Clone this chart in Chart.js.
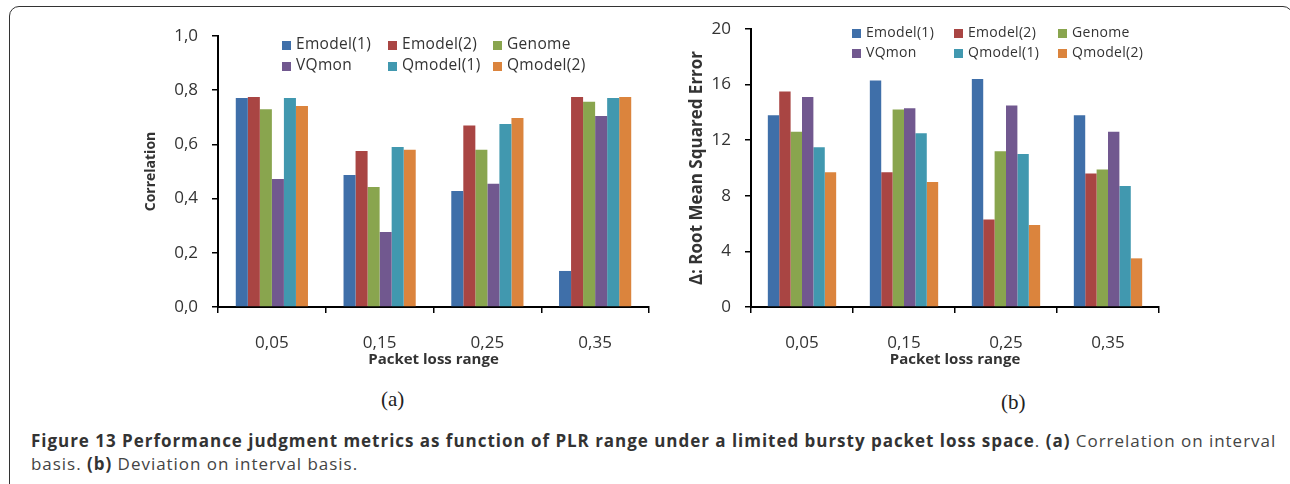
<!DOCTYPE html>
<html>
<head>
<meta charset="utf-8">
<script src="https://cdn.jsdelivr.net/npm/chart.js@4"></script>
<style>
  body { margin: 0; background: #fff; width: 1290px; height: 484px; overflow: hidden; position: relative; font-family: 'Open Sans', sans-serif; }
  .frame { position: absolute; left: 9px; top: 6px; width: 1284px; height: 490px; border: 1.5px solid #333; border-radius: 10px; box-sizing: border-box; }
  .box { position: absolute; top: 0; height: 380px; }
  .legend { position: absolute; color: #333; white-space: nowrap; }
  .legend span.sw { position: absolute; width: 9px; height: 9px; }
  .legend span.tx { position: absolute; line-height: 1; }
  .sub { position: absolute; font-family: 'Liberation Serif', serif; font-size: 21px; color: #222; }
  .caption { position: absolute; left: 31px; top: 429px; font-size: 17px; letter-spacing: 0.97px; line-height: 23px; color: #444; white-space: nowrap; }
  .caption b { color: #333; }
</style>
</head>
<body>
<div class="frame"></div>
<div class="box" style="left:0;width:665px"><canvas id="corrChart"></canvas></div>
<div class="box" style="left:665px;width:625px"><canvas id="rmseChart"></canvas></div>
<div class="legend" id="corrLegend"></div>
<div class="legend" id="rmseLegend"></div>
<div class="sub" style="left:381px;top:387px">(a)</div>
<div class="sub" style="left:1001px;top:390px">(b)</div>
<div class="caption"><b>Figure 13 Performance judgment metrics as function of PLR range under a limited bursty packet loss space</b>. <b>(a)</b> Correlation on interval<br>basis. <b>(b)</b> Deviation on interval basis.</div>
<script>
const categories = ['0,05', '0,15', '0,25', '0,35'];
const seriesNames = ['Emodel(1)', 'Emodel(2)', 'Genome', 'VQmon', 'Qmodel(1)', 'Qmodel(2)'];
const seriesColors = ['#3f6fa9', '#a94543', '#89a54e', '#71588f', '#4198af', '#db843d'];

// (a) correlation
const corrEmodel1 = [0.771, 0.487, 0.428, 0.133];
const corrEmodel2 = [0.775, 0.576, 0.670, 0.775];
const corrGenome  = [0.730, 0.443, 0.580, 0.757];
const corrVQmon   = [0.472, 0.277, 0.455, 0.705];
const corrQmodel1 = [0.771, 0.590, 0.675, 0.771];
const corrQmodel2 = [0.742, 0.580, 0.697, 0.775];

// (b) root mean squared error
const rmseEmodel1 = [13.8, 16.3, 16.4, 13.8];
const rmseEmodel2 = [15.5, 9.7, 6.3, 9.6];
const rmseGenome  = [12.6, 14.2, 11.2, 9.9];
const rmseVQmon   = [15.1, 14.3, 14.5, 12.6];
const rmseQmodel1 = [11.5, 12.5, 11.0, 8.7];
const rmseQmodel2 = [9.7, 9.0, 5.9, 3.5];

Chart.defaults.font.family = "'Open Sans', sans-serif";
Chart.defaults.color = '#333';
Chart.defaults.animation = false;

function buildDatasets(series) {
    return series.map((values, i) => ({
        label: seriesNames[i],
        data: values,
        backgroundColor: seriesColors[i],
        categoryPercentage: 0.67,
        barPercentage: 1.0,
    }));
}

function makeChart(id, series, cfg) {
    return new Chart(document.getElementById(id), {
        type: 'bar',
        data: { labels: categories, datasets: buildDatasets(series) },
        options: {
            responsive: true,
            maintainAspectRatio: false,
            layout: { padding: cfg.padding },
            plugins: { legend: { display: false }, tooltip: { enabled: false } },
            scales: {
                x: {
                    afterFit: (scale) => { scale.height = cfg.xHeight; },
                    border: { color: '#000', width: 2 },
                    grid: { drawOnChartArea: false, color: '#000', lineWidth: 1.5, tickLength: 6 },
                    ticks: { padding: 20, font: { size: 17 }, color: '#333' },
                    title: {
                        display: true, text: 'Packet loss range', color: '#333',
                        font: { size: 15, weight: 'bold' }, padding: { top: 0, bottom: 0 },
                    },
                },
                y: {
                    min: 0,
                    max: cfg.max,
                    afterFit: (scale) => { scale.width = cfg.yWidth; },
                    border: { color: '#000', width: 2 },
                    grid: { drawOnChartArea: false, color: '#000', lineWidth: 1.5, tickLength: 6 },
                    ticks: { stepSize: cfg.step, padding: 14, font: { size: 17 }, color: '#333', callback: cfg.fmt },
                    title: {
                        display: true, text: cfg.yTitle, color: '#333',
                        font: { size: cfg.yTitleSize, weight: 'bold' }, padding: 0,
                    },
                },
            },
        },
    });
}

makeChart('corrChart',
    [corrEmodel1, corrEmodel2, corrGenome, corrVQmon, corrQmodel1, corrQmodel2], {
        padding: { left: 143, right: 16, top: 36, bottom: 11 },
        xHeight: 62, yWidth: 75, max: 1, step: 0.2,
        fmt: (v) => v.toFixed(1).replace('.', ','),
        yTitle: 'Correlation', yTitleSize: 14,
    });

makeChart('rmseChart',
    [rmseEmodel1, rmseEmodel2, rmseGenome, rmseVQmon, rmseQmodel1, rmseQmodel2], {
        padding: { left: 22, right: 131, top: 29, bottom: 11 },
        xHeight: 62, yWidth: 64, max: 20, step: 4,
        fmt: (v) => String(v),
        yTitle: 'Δ: Root Mean Squared Error', yTitleSize: 17,
    });

// legends, 3 columns x 2 rows like the original
function buildLegend(id, cols, rows, size) {
    const el = document.getElementById(id);
    seriesNames.forEach((name, i) => {
        const x = cols[i % 3], y = rows[Math.floor(i / 3)];
        const sw = document.createElement('span');
        sw.className = 'sw';
        sw.style.cssText = `left:${x}px;top:${y - 4.5}px;background:${seriesColors[i]}`;
        const tx = document.createElement('span');
        tx.className = 'tx';
        tx.textContent = name;
        tx.style.cssText = `left:${x + 14}px;top:${y - size * 0.55}px;font-size:${size}px;letter-spacing:0.3px`;
        el.appendChild(sw);
        el.appendChild(tx);
    });
}
buildLegend('corrLegend', [282, 388, 493], [45, 66], 15.5);
buildLegend('rmseLegend', [852, 954, 1058], [33, 53], 14);
</script>
</body>
</html>
